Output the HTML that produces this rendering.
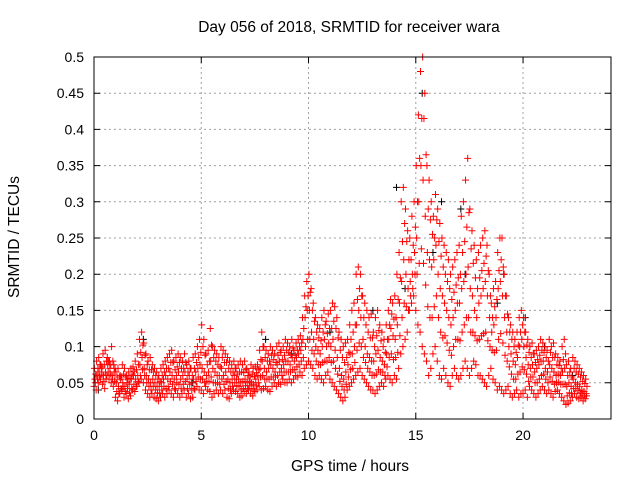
<!DOCTYPE html>
<html><head><meta charset="utf-8"><style>
body{margin:0;background:#fff}
svg text{font-family:"Liberation Sans",sans-serif;font-size:14px;fill:#000}
svg text.big{font-size:15.5px}
</style></head><body>
<svg id="chart" width="640" height="480" viewBox="0 0 640 480" xmlns="http://www.w3.org/2000/svg">
<text class="big" x="349" y="32" text-anchor="middle">Day 056 of 2018, SRMTID for receiver wara</text>
<text class="big" x="350" y="471" text-anchor="middle">GPS time / hours</text>
<text class="big" transform="translate(19,237) rotate(-90)" text-anchor="middle">SRMTID / TECUs</text>
<g id="grid"></g>
<g id="ticks"></g>
<g id="black"></g>
<g id="red"></g>
<rect x="94" y="57" width="517" height="362" fill="none" stroke="#000" stroke-width="1"/>
</svg>
<script>
const xTicks=[0,5,10,15,20];
const yTicks=[0,0.05,0.1,0.15,0.2,0.25,0.3,0.35,0.4,0.45,0.5];
const yTickLabels=["0","0.05","0.1","0.15","0.2","0.25","0.3","0.35","0.4","0.45","0.5"];
// red series: one row per hour, 10 samples per hour (milli-TECU)
const redLow=[
[45,40,50,55,48,42,60,55,50,45],[30,25,35,40,30,35,28,32,40,38],[45,50,55,50,40,35,30,35,30,28],
[25,30,35,30,35,40,35,30,40,35],[30,35,40,30,35,28,30,40,45,40],[40,35,45,40,38,30,35,40,35,40],
[35,40,30,28,35,40,38,35,30,32],[38,35,40,35,32,38,40,45,40,42],[45,40,38,45,50,45,50,48,55,50],
[50,55,50,55,60,58,65,60,70,75],[80,75,70,60,55,60,55,50,60,65],[55,50,45,40,35,30,25,30,40,45],
[50,55,60,65,70,60,55,50,45,40],[40,35,40,45,50,45,55,60,55,50],[60,55,70,90,100,110,120,150,160,170],
[150,130,120,100,90,80,60,70,90,100],[80,60,55,70,60,50,45,60,70,60],[55,60,70,80,70,60,70,80,75,60],
[60,55,50,45,60,70,55,50,40,45],[40,35,40,45,35,30,35,40,30,35],[35,40,30,45,40,35,30,35,40,45],
[40,35,40,35,30,38,40,35,30,25],[20,22,25,30,35,30,28,30,25,28]];
const redLowMid=[
[50,55,58,62,52,55,65,62,55,52],[38,35,42,45,38,42,36,42,48,45],[52,60,68,60,50,45,40,45,40,36],
[35,40,45,42,45,52,48,42,50,48],[42,48,52,42,48,40,42,52,58,55],[55,50,52,52,58,50,50,50,48,55],
[48,52,42,40,45,50,46,45,40,42],[46,42,46,42,40,46,50,58,60,55],[55,55,58,58,58,60,65,60,65,65],
[65,65,68,68,72,75,80,85,100,110],[110,95,90,80,75,75,78,80,80,85],[78,80,70,62,52,45,40,48,58,68],
[70,78,95,105,100,85,78,70,65,60],[60,62,68,65,65,60,72,85,90,82],[85,92,115,140,160,155,150,170,180,200],
[200,215,235,215,185,155,140,140,155,170],[140,120,112,115,105,95,88,100,110,110],[108,120,130,140,140,120,120,115,108,110],
[115,118,120,108,100,95,92,95,110,118],[105,88,80,72,62,55,55,62,65,72],[68,62,52,58,58,50,50,55,60,62],
[55,50,58,52,48,50,51,48,48,48],[32,36,35,42,42,39,36,35,32,32]];
const redMid=[
[55,60,65,70,60,65,75,70,60,65],[50,45,55,50,45,50,48,55,60,55],[60,75,85,70,60,55,50,55,50,45],
[45,50,55,60,55,65,60,55,60,65],[55,60,65,55,60,50,55,65,70,75],[70,65,60,65,80,70,65,60,60,70],
[60,65,55,50,55,60,55,55,50,52],[55,50,52,50,48,55,60,70,80,70],[65,70,75,70,65,75,80,70,75,80],
[80,75,85,80,85,90,95,110,140,150],[150,120,110,100,95,90,100,110,100,105],[100,110,95,85,70,60,55,65,75,90],
[90,100,130,150,140,110,100,90,85,80],[80,90,95,85,80,75,90,110,125,115],[110,130,160,190,220,200,180,190,200,230],
[250,300,350,330,280,230,220,210,220,240],[200,180,170,160,150,140,130,140,150,160],[160,180,190,200,210,180,170,150,140,160],
[170,180,190,170,140,120,130,140,180,190],[170,140,120,100,90,80,75,85,100,110],[100,85,75,70,75,65,70,75,80,80],
[70,65,75,70,65,60,62,60,65,70],[45,50,45,55,50,48,45,40,38,35]];
const redHighMid=[
[62,70,75,72,75,80,80,75,80,70],[58,58,58,62,58,55,56,62,66,68],[75,92,102,88,75,68,68,65,60,55],
[52,60,65,70,70,78,78,68,72,78],[70,70,78,65,70,60,70,78,85,92],[100,88,75,80,102,85,80,75,72,85],
[78,78,70,65,65,70,62,65,65,64],[68,60,58,62,59,64,68,82,100,85],[80,80,88,82,78,88,92,82,88,95],
[92,88,98,88,95,100,105,125,155,170],[175,150,135,120,112,108,120,130,118,125],[125,135,125,112,95,85,78,85,92,110],
[120,130,165,180,170,140,130,120,112,112],[100,115,122,108,100,92,110,130,145,138],[140,165,195,245,270,245,220,220,240,265],
[300,360,415,415,365,290,275,255,250,275],[245,225,210,200,190,180,165,175,185,195],[200,230,245,265,285,235,215,195,180,195],
[205,215,225,205,170,140,155,165,205,220],[210,170,145,120,110,100,92,102,120,130],[120,102,92,85,90,78,82,88,95,92],
[85,80,92,85,85,75,74,70,82,90],[60,65,58,70,65,62,58,52,49,45]];
const redHigh=[
[70,80,85,75,90,95,85,80,100,75],[65,70,60,75,70,60,65,70,72,80],[90,110,120,105,90,80,85,75,70,65],
[60,70,75,80,85,90,95,80,85,90],[85,80,90,75,80,70,85,90,100,110],[130,110,90,95,125,100,95,90,85,100],
[95,90,85,80,75,80,70,75,80,75],[80,70,65,75,70,72,75,95,120,100],[95,90,100,95,90,100,105,95,100,110],
[105,100,110,95,105,110,115,140,170,190],[200,180,160,140,130,125,140,150,135,145],[150,160,155,140,120,110,100,105,110,130],
[150,160,200,210,200,170,160,150,140,145],[120,140,150,130,120,110,130,150,165,160],[170,200,230,300,320,290,260,250,280,300],
[350,420,480,500,450,350,330,300,280,310],[290,270,250,240,230,220,200,210,220,230],[240,280,300,330,360,290,260,240,220,230],
[240,250,260,240,200,160,180,190,230,250],[250,200,170,140,130,120,110,120,140,150],[140,120,110,100,105,90,95,100,110,105],
[100,95,110,100,105,90,85,80,100,110],[75,80,70,85,80,75,70,65,60,55]];
const blackHours=[0.2,2.3,4.6,8.0,9.2,11.0,13.0,14.1,14.5,15.3,15.8,16.2,17.1,17.3,18.8,19.1,20.1,21.0,22.3];
const blackValues=[0.04,0.11,0.05,0.11,0.09,0.12,0.15,0.32,0.18,0.45,0.23,0.3,0.29,0.2,0.16,0.2,0.14,0.1,0.06];

const X0=94,X1=611,Y0=419,Y1=57,XMAX=24.1,YMAX=0.5;
const sx=t=>X0+(X1-X0)*t/XMAX;
const sy=v=>Y0-(Y0-Y1)*v/YMAX;
const NS="http://www.w3.org/2000/svg";
function mk(tag,parent,attrs){const e=document.createElementNS(NS,tag);for(const k in attrs)e.setAttribute(k,attrs[k]);parent.appendChild(e);return e;}
const grid=document.getElementById('grid'),ticks=document.getElementById('ticks');
xTicks.forEach(t=>{
  const x=sx(t);
  if(t>0){const g=mk('line',grid,{x1:x,x2:x,y1:Y1,y2:Y0,stroke:'#a0a0a0','stroke-dasharray':'2,3'});
  
  }
  const tk=mk('path',ticks,{d:`M${x},${Y0}v-6M${x},${Y1}v6`,stroke:'#000'});
  
  
  const l=mk('text',ticks,{x:x,y:Y0+21,'text-anchor':'middle'});l.textContent=t;
  
  
});
yTicks.forEach((v,i)=>{
  const y=sy(v);
  if(i>0&&i<yTicks.length-1){const g=mk('line',grid,{x1:X0,x2:X1,y1:y,y2:y,stroke:'#a0a0a0','stroke-dasharray':'2,3'});
  
  }
  const tk=mk('path',ticks,{d:`M${X0},${y}h6M${X1},${y}h-6`,stroke:'#000'});
  
  
  const l=mk('text',ticks,{x:X0-10,y:y+5,'text-anchor':'end'});l.textContent=yTickLabels[i];
  
  
});
function plus(parent,t,v,color){
  const x=sx(t),y=sy(v);
  const p=mk('path',parent,{d:`M${x-3.5},${y}h7M${x},${y-3.5}v7`,stroke:color,'stroke-width':1});
  
  
}
const blk=document.getElementById('black'),red=document.getElementById('red');
blackHours.forEach((t,i)=>plus(blk,t,blackValues[i],'#000'));
[redLow,redHigh,redMid,redLowMid,redHighMid].forEach((rows,s)=>{
  rows.forEach((row,h)=>row.forEach((m,i)=>plus(red,h+i/10+s*0.02,m/1000,'#ff0000')));
});
</script>
</body></html>
